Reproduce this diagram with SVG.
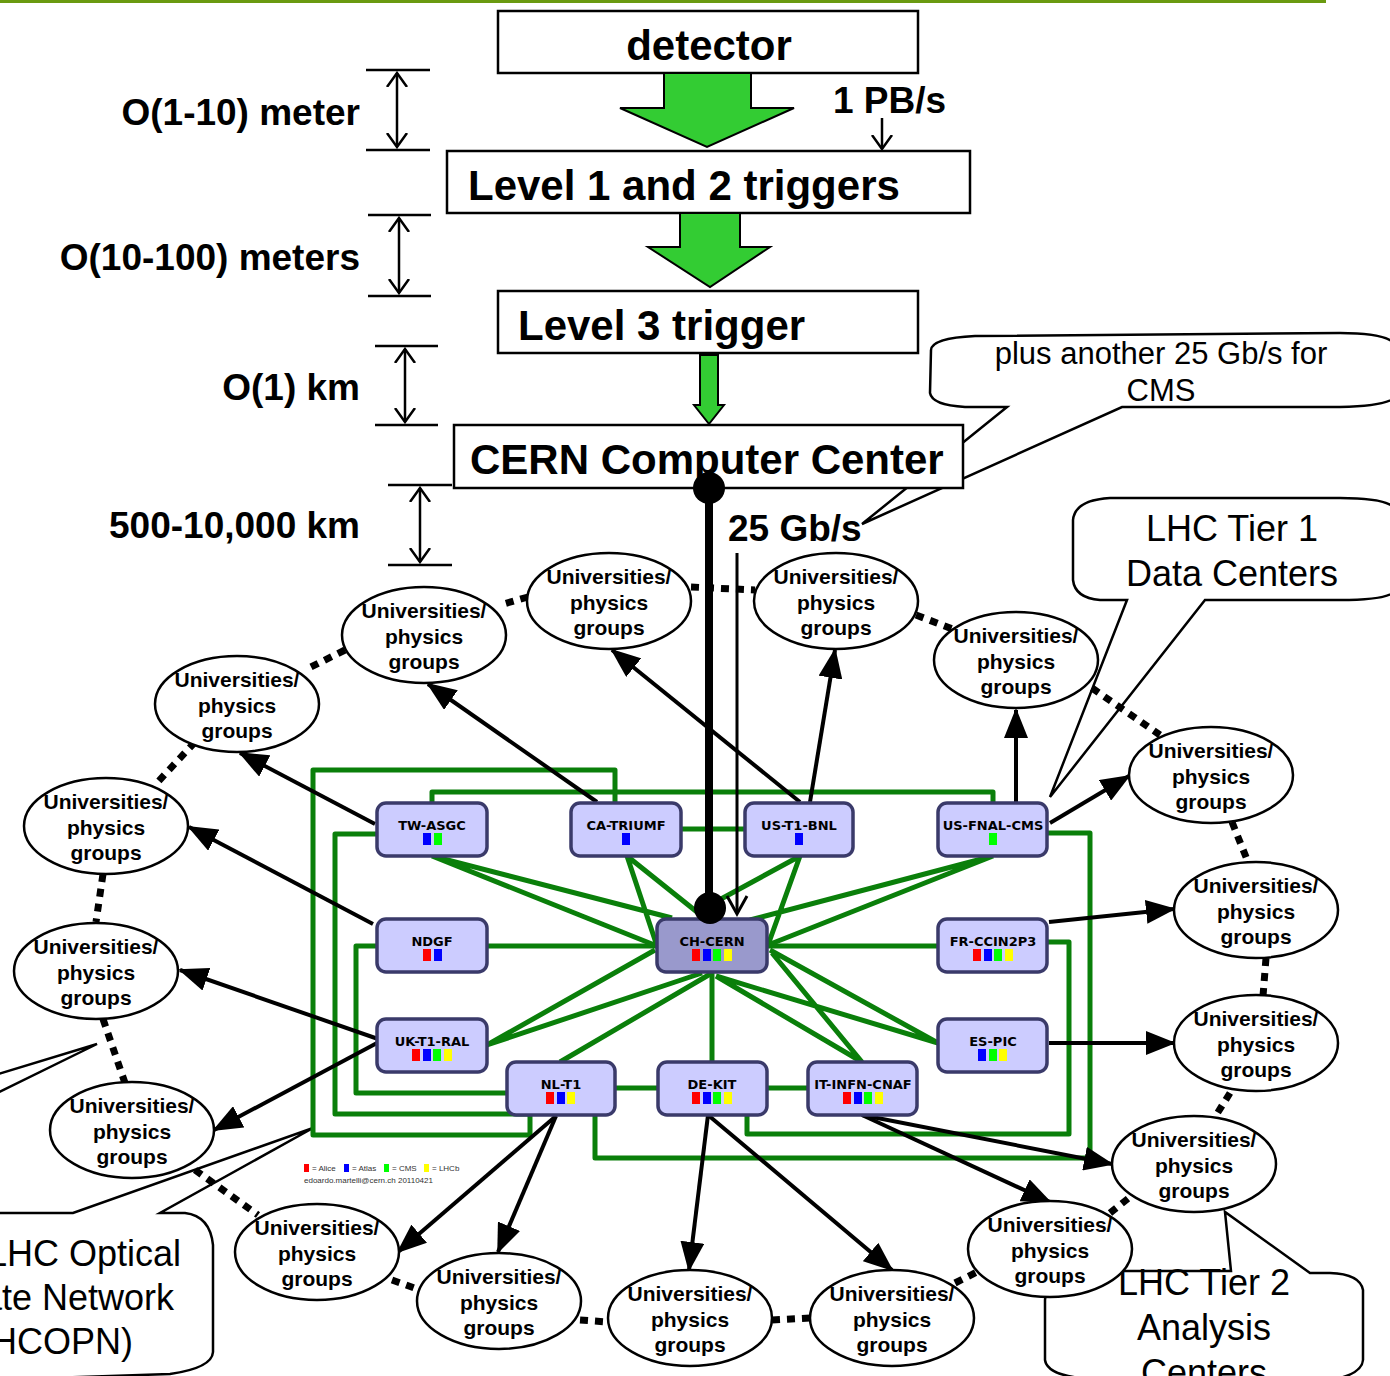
<svg xmlns="http://www.w3.org/2000/svg" width="1390" height="1376" viewBox="0 0 1390 1376">
<style>
.bx{fill:#fff;stroke:#000;stroke-width:2.5}
.big{font-family:"Liberation Sans",Arial,sans-serif;font-weight:bold;font-size:42px;fill:#000}
.dim{font-family:"Liberation Sans",Arial,sans-serif;font-weight:bold;font-size:37px;fill:#000;text-anchor:end}
.lbl{font-family:"Liberation Sans",Arial,sans-serif;font-weight:bold;font-size:37px;fill:#000}
.co{fill:#fff;stroke:#000;stroke-width:2.5}
.cot{font-family:"Liberation Sans",Arial,sans-serif;font-size:36px;fill:#000;text-anchor:middle}
.gar{fill:#33cc33;stroke:#000;stroke-width:2}
.dl{stroke:#000;stroke-width:2.5;fill:none}
.ring{stroke:#000;stroke-width:7;stroke-dasharray:8 7;fill:none}
.gl{stroke:#0a7f0a;stroke-width:5;fill:none;stroke-linejoin:round}
.ar{stroke:#000;stroke-width:4;fill:none;marker-end:url(#ah)}
.el{fill:#fff;stroke:#000;stroke-width:2.5}
.ut{font-family:"Liberation Sans",Arial,sans-serif;font-weight:bold;font-size:21px;fill:#000;text-anchor:middle}
.nd{fill:#ccccff;stroke:#3a3a6a;stroke-width:3.5}
.ndc{fill:#9999cc;stroke:#3a3a6a;stroke-width:3.5}
.nt{font-family:"DejaVu Sans",Verdana,sans-serif;font-weight:bold;font-size:13px;fill:#000;text-anchor:middle}
.lg{font-family:"Liberation Sans",Arial,sans-serif;font-size:8px;fill:#333}
</style>
<defs>
<marker id="ah" markerUnits="userSpaceOnUse" markerWidth="30" markerHeight="24" refX="28" refY="12" orient="auto">
<path d="M0,0 L30,12 L0,24 z" fill="#000"/>
</marker>
<marker id="vh" markerUnits="userSpaceOnUse" markerWidth="16" markerHeight="24" refX="14" refY="12" orient="auto-start-reverse">
<path d="M0,2 L14,12 L0,22" fill="none" stroke="#000" stroke-width="2.5"/>
</marker>
</defs>

<line x1="0" y1="1.5" x2="1326" y2="1.5" stroke="#6a9a10" stroke-width="3"/>

<!-- callouts (background) -->
<g id="callout-cms">
<path class="co" d="M1007 407 L862 524 L1122 407 L1340 407 Q1390 406 1396 396 L1396 345 Q1388 333 1340 333 L975 336 Q932 338 931 350 L930 393 Q932 405 965 407 Z"/>
<text class="cot" style="font-size:31px" x="1161" y="364">plus another 25 Gb/s for</text>
<text class="cot" style="font-size:31px" x="1161" y="401">CMS</text>
</g>
<g id="callout-tier1">
<path class="co" d="M1127 600 L1050 797 L1205 600 L1340 600 Q1390 600 1396 590 L1396 510 Q1390 498 1340 498 L1110 498 Q1075 500 1073 520 L1073 580 Q1075 598 1100 600 Z"/>
<text class="cot" x="1232" y="541">LHC Tier 1</text>
<text class="cot" x="1232" y="586">Data Centers</text>
</g>
<g id="callout-tier2">
<path class="co" d="M1225 1212 L1231 1271 L1080 1271 Q1046 1274 1045 1300 L1045 1360 Q1047 1374 1080 1378 L1340 1378 Q1362 1372 1363 1360 L1363 1290 Q1360 1274 1330 1273 L1310 1273 Z"/>
<text class="cot" x="1204" y="1295">LHC Tier 2</text>
<text class="cot" x="1204" y="1340">Analysis</text>
<text class="cot" x="1204" y="1385">Centers</text>
</g>
<g id="callout-lhcopn">
<path class="co" d="M313 1128 L73 1213 L-10 1213 L-10 1380 L170 1374 Q212 1368 213 1352 L213 1245 Q210 1216 185 1213 L160 1213 Z"/>
<path class="dl" d="M-5 1075 L97 1044 L-5 1094"/>
<text class="cot" style="text-anchor:end" x="181" y="1266">LHC Optical</text>
<text class="cot" style="text-anchor:end" x="174" y="1310">Private Network</text>
<text class="cot" style="text-anchor:end" x="133" y="1354">(LHCOPN)</text>
</g>

<!-- top chain -->
<g id="detector"><rect class="bx" x="498" y="11" width="420" height="62"/><text class="big" x="709" y="60" text-anchor="middle">detector</text></g>
<g id="level12"><rect class="bx" x="447" y="151" width="523" height="62"/><text class="big" x="468" y="200">Level 1 and 2 triggers</text></g>
<g id="level3"><rect class="bx" x="498" y="291" width="420" height="62"/><text class="big" x="518" y="340">Level 3 trigger</text></g>
<g id="cern-cc"><rect class="bx" x="454" y="425" width="509" height="63"/><text class="big" x="470" y="474">CERN Computer Center</text></g>

<g id="connectors">
<polygon class="gar" points="664,73 751,73 751,108 794,108 707,147 620,108 664,108"/>
<polygon class="gar" points="680,213 740,213 740,247 770,247 710,287 648,247 680,247"/>
<polygon class="gar" points="700,355 718,355 718,405 724,405 709,424 694,405 700,405"/>

<!-- dimension markers -->
<line class="dl" x1="366" y1="70" x2="430" y2="70"/><line class="dl" x1="366" y1="150" x2="430" y2="150"/>
<line class="dl" x1="397" y1="73" x2="397" y2="147" marker-start="url(#vh)" marker-end="url(#vh)"/>
<line class="dl" x1="368" y1="215" x2="431" y2="215"/><line class="dl" x1="368" y1="296" x2="431" y2="296"/>
<line class="dl" x1="399" y1="218" x2="399" y2="293" marker-start="url(#vh)" marker-end="url(#vh)"/>
<line class="dl" x1="375" y1="346" x2="438" y2="346"/><line class="dl" x1="375" y1="425" x2="438" y2="425"/>
<line class="dl" x1="405" y1="349" x2="405" y2="422" marker-start="url(#vh)" marker-end="url(#vh)"/>
<line class="dl" x1="388" y1="485" x2="452" y2="485"/><line class="dl" x1="388" y1="565" x2="452" y2="565"/>
<line class="dl" x1="420" y1="488" x2="420" y2="562" marker-start="url(#vh)" marker-end="url(#vh)"/>
<line class="dl" x1="882" y1="118" x2="882" y2="149" marker-end="url(#vh)"/>

<!-- dotted ring -->
<path class="ring" d="M195 742 L155 785 M103 874 L96 922 M103 1019 L125 1083 M195 1170 L258 1215 M392 1280 L420 1290 M580 1320 L608 1322 M772 1320 L810 1318 M955 1283 L985 1268 M1110 1213 L1135 1193 M1230 1093 L1215 1117 M1266 958 L1263 996 M1232 822 L1248 862 M1092 688 L1160 735 M916 615 L955 630 M691 587 L755 590 M528 597 L500 605 M345 650 L305 670"/>

<!-- green network -->
<path class="gl" d="M615 803 L615 770 L313 770 L313 1135 L530 1135 L530 1115"/>
<path class="gl" d="M377 834 L335 834 L335 1114 L530 1114"/>
<path class="gl" d="M377 946 L356 946 L356 1093 L507 1093"/>
<path class="gl" d="M432 803 L432 792 L993 792 L993 803"/>
<path class="gl" d="M1047 833 L1090 833 L1090 1158 L595 1158 L595 1115"/>
<path class="gl" d="M1047 942 L1069 942 L1069 1134 L747 1134 L747 1115"/>
<path class="gl" d="M681 829 L745 829 M615 1088 L658 1088 M767 1088 L808 1088 M487 946 L657 946 M938 946 L767 946 M712 972 L712 1062"/>
<path class="gl" d="M432 856 L672 918 M432 856 L657 946 M627 856 L657 946 M627 856 L697 912 M800 856 L697 912 M800 856 L768 945 M993 856 L750 920 M993 856 L768 945"/>
<path class="gl" d="M487 1045 L655 950 M487 1045 L702 973 M560 1062 L712 973 M862 1062 L716 976 M862 1062 L772 953 M938 1043 L716 976 M938 1043 L770 950"/>

<!-- black arrows -->
<line class="ar" x1="375" y1="824" x2="240" y2="753"/>
<line class="ar" x1="373" y1="924" x2="189" y2="827"/>
<line class="ar" x1="597" y1="802" x2="428" y2="684"/>
<line class="ar" x1="800" y1="802" x2="612" y2="650"/>
<line class="ar" x1="810" y1="802" x2="835" y2="650"/>
<line class="ar" x1="1016" y1="803" x2="1016" y2="710"/>
<line class="ar" x1="1050" y1="823" x2="1129" y2="776"/>
<line class="ar" x1="1049" y1="922" x2="1174" y2="909"/>
<line class="ar" x1="1049" y1="1043" x2="1174" y2="1043"/>
<line class="ar" x1="381" y1="1040" x2="180" y2="970"/>
<line class="ar" x1="377" y1="1043" x2="214" y2="1130"/>
<line class="ar" x1="556" y1="1116" x2="398" y2="1252"/>
<line class="ar" x1="556" y1="1116" x2="498" y2="1252"/>
<line class="ar" x1="708" y1="1115" x2="689" y2="1270"/>
<line class="ar" x1="708" y1="1115" x2="892" y2="1270"/>
<line class="ar" x1="862" y1="1115" x2="1050" y2="1202"/>
<line class="ar" x1="862" y1="1115" x2="1112" y2="1164"/>
</g>

<text class="lbl" x="833" y="113">1 PB/s</text>
<text class="lbl" x="728" y="541">25 Gb/s</text>
<text class="dim" x="360" y="125">O(1-10) meter</text>
<text class="dim" x="360" y="270">O(10-100) meters</text>
<text class="dim" x="360" y="400">O(1) km</text>
<text class="dim" x="360" y="538">500-10,000 km</text>

<!-- Tier 1 nodes -->
<g id="tw-asgc"><rect class="nd" x="377" y="803" width="110" height="53" rx="9"/><text class="nt" x="432" y="830">TW-ASGC</text><rect x="423" y="833" width="8" height="12" fill="#0000ff"/><rect x="434" y="833" width="8" height="12" fill="#00ff00"/></g>
<g id="ca-triumf"><rect class="nd" x="571" y="803" width="110" height="53" rx="9"/><text class="nt" x="626" y="830">CA-TRIUMF</text><rect x="622" y="833" width="8" height="12" fill="#0000ff"/></g>
<g id="us-t1-bnl"><rect class="nd" x="745" y="803" width="108" height="53" rx="9"/><text class="nt" x="799" y="830">US-T1-BNL</text><rect x="795" y="833" width="8" height="12" fill="#0000ff"/></g>
<g id="us-fnal-cms"><rect class="nd" x="938" y="803" width="109" height="53" rx="9"/><text class="nt" x="993" y="830">US-FNAL-CMS</text><rect x="989" y="833" width="8" height="12" fill="#00ff00"/></g>
<g id="ndgf"><rect class="nd" x="377" y="919" width="110" height="53" rx="9"/><text class="nt" x="432" y="946">NDGF</text><rect x="423" y="949" width="8" height="12" fill="#ff0000"/><rect x="434" y="949" width="8" height="12" fill="#0000ff"/></g>
<g id="ch-cern"><rect class="ndc" x="657" y="919" width="110" height="53" rx="9"/><text class="nt" x="712" y="946">CH-CERN</text><rect x="692" y="949" width="8" height="12" fill="#ff0000"/><rect x="703" y="949" width="8" height="12" fill="#0000ff"/><rect x="713" y="949" width="8" height="12" fill="#00ff00"/><rect x="724" y="949" width="8" height="12" fill="#ffff00"/></g>
<g id="fr-ccin2p3"><rect class="nd" x="938" y="919" width="109" height="53" rx="9"/><text class="nt" x="993" y="946">FR-CCIN2P3</text><rect x="973" y="949" width="8" height="12" fill="#ff0000"/><rect x="984" y="949" width="8" height="12" fill="#0000ff"/><rect x="994" y="949" width="8" height="12" fill="#00ff00"/><rect x="1005" y="949" width="8" height="12" fill="#ffff00"/></g>
<g id="uk-t1-ral"><rect class="nd" x="377" y="1019" width="110" height="53" rx="9"/><text class="nt" x="432" y="1046">UK-T1-RAL</text><rect x="412" y="1049" width="8" height="12" fill="#ff0000"/><rect x="423" y="1049" width="8" height="12" fill="#0000ff"/><rect x="433" y="1049" width="8" height="12" fill="#00ff00"/><rect x="444" y="1049" width="8" height="12" fill="#ffff00"/></g>
<g id="es-pic"><rect class="nd" x="938" y="1019" width="109" height="53" rx="9"/><text class="nt" x="993" y="1046">ES-PIC</text><rect x="978" y="1049" width="8" height="12" fill="#0000ff"/><rect x="989" y="1049" width="8" height="12" fill="#00ff00"/><rect x="999" y="1049" width="8" height="12" fill="#ffff00"/></g>
<g id="nl-t1"><rect class="nd" x="507" y="1062" width="108" height="53" rx="9"/><text class="nt" x="561" y="1089">NL-T1</text><rect x="546" y="1092" width="8" height="12" fill="#ff0000"/><rect x="557" y="1092" width="8" height="12" fill="#0000ff"/><rect x="567" y="1092" width="8" height="12" fill="#ffff00"/></g>
<g id="de-kit"><rect class="nd" x="658" y="1062" width="109" height="53" rx="9"/><text class="nt" x="712" y="1089">DE-KIT</text><rect x="692" y="1092" width="8" height="12" fill="#ff0000"/><rect x="703" y="1092" width="8" height="12" fill="#0000ff"/><rect x="713" y="1092" width="8" height="12" fill="#00ff00"/><rect x="724" y="1092" width="8" height="12" fill="#ffff00"/></g>
<g id="it-infn-cnaf"><rect class="nd" x="808" y="1062" width="109" height="53" rx="9"/><text class="nt" x="863" y="1089">IT-INFN-CNAF</text><rect x="843" y="1092" width="8" height="12" fill="#ff0000"/><rect x="854" y="1092" width="8" height="12" fill="#0000ff"/><rect x="864" y="1092" width="8" height="12" fill="#00ff00"/><rect x="875" y="1092" width="8" height="12" fill="#ffff00"/></g>

<!-- CERN links (on top) -->
<g id="cern-link">
<line x1="709" y1="488" x2="709" y2="908" stroke="#000" stroke-width="8"/>
<circle cx="709" cy="488" r="16" fill="#000"/>
<circle cx="710" cy="908" r="16" fill="#000"/>
<line x1="737" y1="553" x2="737" y2="913" stroke="#000" stroke-width="3"/>
<polyline points="727,896 737,914 747,896" fill="none" stroke="#000" stroke-width="3"/>
</g>

<!-- legend -->
<g id="legend">
<rect x="304" y="1164" width="5" height="8" fill="#ff0000"/><text class="lg" x="312" y="1171">= Alice</text>
<rect x="344" y="1164" width="5" height="8" fill="#0000ff"/><text class="lg" x="352" y="1171">= Atlas</text>
<rect x="384" y="1164" width="5" height="8" fill="#00ff00"/><text class="lg" x="392" y="1171">= CMS</text>
<rect x="424" y="1164" width="5" height="8" fill="#ffff00"/><text class="lg" x="432" y="1171">= LHCb</text>
<text class="lg" x="304" y="1183">edoardo.martelli@cern.ch 20110421</text>
</g>

<!-- universities -->
<g id="univ-1"><ellipse class="el" cx="424" cy="635" rx="82" ry="48"/><text class="ut" x="424" y="618">Universities/</text><text class="ut" x="424" y="644">physics</text><text class="ut" x="424" y="669">groups</text></g>
<g id="univ-2"><ellipse class="el" cx="609" cy="601" rx="82" ry="48"/><text class="ut" x="609" y="584">Universities/</text><text class="ut" x="609" y="610">physics</text><text class="ut" x="609" y="635">groups</text></g>
<g id="univ-3"><ellipse class="el" cx="836" cy="601" rx="82" ry="48"/><text class="ut" x="836" y="584">Universities/</text><text class="ut" x="836" y="610">physics</text><text class="ut" x="836" y="635">groups</text></g>
<g id="univ-4"><ellipse class="el" cx="1016" cy="660" rx="82" ry="48"/><text class="ut" x="1016" y="643">Universities/</text><text class="ut" x="1016" y="669">physics</text><text class="ut" x="1016" y="694">groups</text></g>
<g id="univ-5"><ellipse class="el" cx="1211" cy="775" rx="82" ry="48"/><text class="ut" x="1211" y="758">Universities/</text><text class="ut" x="1211" y="784">physics</text><text class="ut" x="1211" y="809">groups</text></g>
<g id="univ-6"><ellipse class="el" cx="1256" cy="910" rx="82" ry="48"/><text class="ut" x="1256" y="893">Universities/</text><text class="ut" x="1256" y="919">physics</text><text class="ut" x="1256" y="944">groups</text></g>
<g id="univ-7"><ellipse class="el" cx="1256" cy="1043" rx="82" ry="48"/><text class="ut" x="1256" y="1026">Universities/</text><text class="ut" x="1256" y="1052">physics</text><text class="ut" x="1256" y="1077">groups</text></g>
<g id="univ-8"><ellipse class="el" cx="1194" cy="1164" rx="82" ry="48"/><text class="ut" x="1194" y="1147">Universities/</text><text class="ut" x="1194" y="1173">physics</text><text class="ut" x="1194" y="1198">groups</text></g>
<g id="univ-9"><ellipse class="el" cx="1050" cy="1249" rx="82" ry="48"/><text class="ut" x="1050" y="1232">Universities/</text><text class="ut" x="1050" y="1258">physics</text><text class="ut" x="1050" y="1283">groups</text></g>
<g id="univ-10"><ellipse class="el" cx="892" cy="1318" rx="82" ry="48"/><text class="ut" x="892" y="1301">Universities/</text><text class="ut" x="892" y="1327">physics</text><text class="ut" x="892" y="1352">groups</text></g>
<g id="univ-11"><ellipse class="el" cx="690" cy="1318" rx="82" ry="48"/><text class="ut" x="690" y="1301">Universities/</text><text class="ut" x="690" y="1327">physics</text><text class="ut" x="690" y="1352">groups</text></g>
<g id="univ-12"><ellipse class="el" cx="499" cy="1301" rx="82" ry="48"/><text class="ut" x="499" y="1284">Universities/</text><text class="ut" x="499" y="1310">physics</text><text class="ut" x="499" y="1335">groups</text></g>
<g id="univ-13"><ellipse class="el" cx="317" cy="1252" rx="82" ry="48"/><text class="ut" x="317" y="1235">Universities/</text><text class="ut" x="317" y="1261">physics</text><text class="ut" x="317" y="1286">groups</text></g>
<g id="univ-14"><ellipse class="el" cx="132" cy="1130" rx="82" ry="48"/><text class="ut" x="132" y="1113">Universities/</text><text class="ut" x="132" y="1139">physics</text><text class="ut" x="132" y="1164">groups</text></g>
<g id="univ-15"><ellipse class="el" cx="96" cy="971" rx="82" ry="48"/><text class="ut" x="96" y="954">Universities/</text><text class="ut" x="96" y="980">physics</text><text class="ut" x="96" y="1005">groups</text></g>
<g id="univ-16"><ellipse class="el" cx="106" cy="826" rx="82" ry="48"/><text class="ut" x="106" y="809">Universities/</text><text class="ut" x="106" y="835">physics</text><text class="ut" x="106" y="860">groups</text></g>
<g id="univ-17"><ellipse class="el" cx="237" cy="704" rx="82" ry="48"/><text class="ut" x="237" y="687">Universities/</text><text class="ut" x="237" y="713">physics</text><text class="ut" x="237" y="738">groups</text></g>
</svg>
